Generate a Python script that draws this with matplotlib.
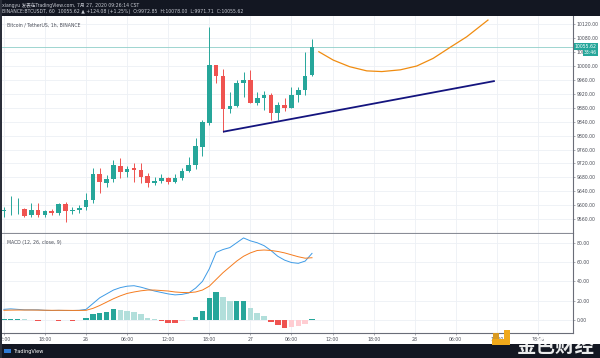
import matplotlib
matplotlib.use('Agg')
import matplotlib.pyplot as plt
import numpy as np
from matplotlib.patches import Rectangle, Polygon

plt.rcParams['font.family'] = ['DejaVu Sans', 'Noto Sans CJK SC']

# ---------------- data ----------------
# hourly candles, 25 Jul 12:00 -> 27 Jul 09:00
opens = [9583, 9585, 9588, 9589, 9572, 9586, 9572, 9583, 9577, 9603,
         9583, 9585, 9594, 9615, 9689, 9665, 9674, 9713, 9694, 9707,
         9701, 9684, 9665, 9669, 9677, 9667, 9677, 9699, 9715, 9768,
         9837, 10003, 9971, 9876, 9886, 9950, 9960, 9895, 9908, 9917,
         9866, 9888, 9880, 9917, 9931, 9972.85]
highs = [9595, 9626, 9621, 9592, 9606, 9606, 9586, 9590, 9606, 9609,
         9595, 9600, 9635, 9706, 9707, 9687, 9730, 9735, 9713, 9722,
         9720, 9693, 9682, 9690, 9682, 9690, 9706, 9738, 9792, 9845,
         10112, 10003, 9991, 9926, 9960, 9984, 9989, 9926, 9929, 9922,
         9897, 9907, 9939, 9941, 10041, 10078]
lows = [9566, 9572, 9575, 9566, 9566, 9566, 9566, 9572, 9572, 9552,
        9575, 9577, 9586, 9605, 9635, 9653, 9667, 9677, 9682, 9667,
        9663, 9651, 9658, 9663, 9661, 9663, 9672, 9696, 9703, 9741,
        9830, 9950, 9811, 9864, 9883, 9912, 9893, 9888, 9874, 9845,
        9845, 9872, 9878, 9897, 9917, 9971.71]
closes = [9585, 9587, 9590, 9569, 9586, 9572, 9583, 9577, 9603, 9583,
          9585, 9593, 9615, 9690, 9666, 9675, 9715, 9694, 9704, 9702,
          9682, 9665, 9669, 9677, 9667, 9679, 9698, 9715, 9770, 9839,
          10003, 9971, 9876, 9886, 9952, 9960, 9895, 9908, 9917, 9866,
          9888, 9878, 9917, 9931, 9971, 10055.62]

macd_line = [11, 11.5, 11, 10.5, 10.5, 10.5, 10, 9.8, 10, 9.8,
             9.8, 10, 11, 17, 23, 27, 31, 33.5, 35, 35.5,
             34, 32, 30, 28.5, 27, 26, 26.5, 28, 33, 40,
             53, 70, 73, 75, 80, 85, 82, 80, 77, 72,
             66, 62, 59.5, 58.7, 61, 69]
signal_line = [10, 10.2, 10.3, 10.3, 10.3, 10.2, 10.1, 10, 10, 10,
               9.9, 9.9, 10, 12, 15, 18.5, 22, 25, 27.5, 29,
               30.2, 31, 31, 30.5, 30, 29, 28.5, 28.3, 29, 31,
               35, 42, 49, 55, 61, 66, 69.5, 72, 72.5, 72,
               71, 69.5, 67.5, 65.5, 64, 64.5]
histogram = [1, 1.2, 1.3, 0.5, 0.3, -1, -0.3, 0.4, -1, 0.2,
             -0.8, -0.5, 1.7, 6.2, 7.6, 8.6, 11.4, 10.4, 9.7, 8.6,
             6.2, 2.4, 0.5, -0.7, -2.8, -2.8, -1.4, -0.5, 3.1, 9.7,
             23.1, 28.6, 24.2, 19.7, 19.7, 19.7, 12.1, 7.6, 4.1, -1.7,
             -5.2, -7.9, -7.6, -6, -4, 1.5]

# drawings (hour index, price)
trend_x = [32, 71.7]
trend_y = [9811, 9957]
curve_x = [46.0, 48.1, 50.5, 53.0, 55.2, 57.9, 60.3, 62.7, 65.2, 67.6, 70.7]
curve_y = [10041, 10017, 9998, 9986, 9984, 9989, 10000, 10022, 10054, 10084, 10132]

time_tick_pos = [0, 6, 12, 18, 24, 30, 36, 42, 48, 54, 60, 66, 72, 78]
time_tick_labels = ['12:00', '18:00', '26', '06:00', '12:00', '18:00', '27',
                    '06:00', '12:00', '18:00', '28', '06:00', '12:00', '18:00']
price_ticks = [9560, 9600, 9640, 9680, 9720, 9760, 9800, 9840, 9880, 9920,
               9960, 10000, 10040, 10080, 10120]
macd_ticks = [0, 20, 40, 60, 80]
last_price = 10055.62

# ---------------- figure ----------------
W, H = 600, 358
fig = plt.figure(figsize=(W / 100, H / 100), dpi=100)
fig.patch.set_facecolor('white')

def box(x0, y0, x1, y1):
    return [x0 / W, 1 - y1 / H, (x1 - x0) / W, (y1 - y0) / H]

UP = '#26a69a'
DN = '#ef5350'
GRID = '#edf0f5'
AX = '#6a6d78'
TXT = '#4a4d57'
FS = 3.3

ax = fig.add_axes(box(1.5, 16, 573, 232.5))
axm = fig.add_axes(box(1.5, 233.5, 573, 333), sharex=ax)

xlim = (-0.35, 83.12)
ax.set_xlim(*xlim)
ax.set_ylim(9521.5, 10143.7)
axm.set_ylim(-13.5, 89.6)

for a in (ax, axm):
    a.set_facecolor('white')
    for s in ('left', 'top'):
        a.spines[s].set_visible(False)
    a.spines['right'].set_color(AX)
    a.spines['right'].set_linewidth(0.8)
    a.spines['bottom'].set_color(AX)
    a.spines['bottom'].set_linewidth(0.8)
    a.yaxis.tick_right()
    a.tick_params(axis='y', length=1.5, width=0.4, color=AX, labelsize=FS,
                  labelcolor=TXT, pad=1.2)
    a.set_xticks(time_tick_pos)
    a.grid(True, color=GRID, linewidth=0.6)
    a.set_axisbelow(True)

ax.tick_params(axis='x', length=0, labelbottom=False)
axm.tick_params(axis='x', length=1.5, width=0.4, color=AX, labelsize=FS,
                labelcolor=TXT, pad=1.5)
axm.set_xticklabels(time_tick_labels)

ax.set_yticks(price_ticks)
ax.set_yticklabels([f'{v:.2f}' for v in price_ticks])
axm.set_yticks(macd_ticks)
axm.set_yticklabels([f'{v:.2f}' for v in macd_ticks])

# candles
idx = np.arange(len(opens))
o = np.array(opens); c = np.array(closes)
hi = np.array(highs); lo = np.array(lows)
up = c >= o
cols = np.where(up, UP, DN)
ax.vlines(idx, lo, hi, colors=cols, linewidth=0.7, zorder=3)
bottom = np.minimum(o, c)
height = np.maximum(np.abs(c - o), 1.8)
ax.bar(idx, height, bottom=bottom, width=0.68, color=cols, linewidth=0, zorder=4)

# last price line
ax.axhline(last_price, color='#8fcfc9', linewidth=0.6, zorder=2)

# drawings
ax.plot(trend_x, trend_y, color='#14147e', linewidth=1.3, solid_capstyle='butt', zorder=5)
ax.plot(curve_x, curve_y, color='#f08c10', linewidth=0.9, zorder=5, clip_on=True)

ax.text(0.009, 0.958, 'Bitcoin / TetherUS, 1h, BINANCE', transform=ax.transAxes,
        fontsize=FS, color=TXT, va='center', ha='left')

# price labels on axis
ax.annotate(f'{last_price:.2f}', xy=(1.0, last_price), xycoords=('axes fraction', 'data'),
            xytext=(1.2, 0), textcoords='offset points', fontsize=FS, color='white',
            va='center', ha='left', annotation_clip=False,
            bbox=dict(boxstyle='square,pad=0.25', fc=UP, ec='none'), zorder=10)
ax.annotate('33:46', xy=(1.0, last_price), xycoords=('axes fraction', 'data'),
            xytext=(8.0, -4.1), textcoords='offset points', fontsize=FS, color='white',
            va='center', ha='left', annotation_clip=False,
            bbox=dict(boxstyle='square,pad=0.25', fc=UP, ec='none'), zorder=10)

# MACD
hist = np.array(histogram)
prev = np.concatenate([[hist[0]], hist[:-1]])
hcols = []
for v, p in zip(hist, prev):
    if v >= 0:
        hcols.append('#26a69a' if v >= p else '#b2dfdb')
    else:
        hcols.append('#ef5350' if v <= p else '#ffcdd2')
axm.bar(idx, hist, width=0.8, color=hcols, linewidth=0, zorder=3)
axm.plot(idx, macd_line, color='#3e9be6', linewidth=0.7, zorder=4)
axm.plot(idx, signal_line, color='#f57c1f', linewidth=0.7, zorder=4)
axm.text(0.009, 0.91, 'MACD (12, 26, close, 9)', transform=axm.transAxes,
         fontsize=FS, color=TXT, va='center', ha='left')

# separator between panes
fig.add_artist(Rectangle((1.5 / W, 1 - 233.5 / H), (573 - 1.5) / W, 1.0 / H,
                         transform=fig.transFigure, color='#8a8d96', lw=0))

# header & footer bands
DARK = '#131722'
fig.add_artist(Rectangle((0, 1 - 16 / H), 1, 16 / H, transform=fig.transFigure,
                         color=DARK, lw=0, zorder=20))
fig.add_artist(Rectangle((0, 0), 1, 14 / H, transform=fig.transFigure,
                         color=DARK, lw=0, zorder=20))
fig.add_artist(Rectangle((0, 0), 1.5 / W, 1, transform=fig.transFigure,
                         color='#2a2e39', lw=0, zorder=20))

fig.text(2 / W, 1 - 5 / H, 'xiangyu 发表在TradingView.com, 7月 27, 2020 09:26:14 CST',
         fontsize=FS, color='#c8cbd3', va='center', ha='left', zorder=21,
         family=['DejaVu Sans', 'Noto Sans CJK SC'])
fig.text(2 / W, 1 - 11.5 / H,
         'BINANCE:BTCUSDT, 60  10055.62 ▲ +124.08 (+1.25%)  O:9972.85  H:10078.00  L:9971.71  C:10055.62',
         fontsize=FS, color='#c8cbd3', va='center', ha='left', zorder=21)

fig.text(13 / W, 7 / H, 'TradingView', fontsize=3.6, color='white',
         va='center', ha='left', zorder=21)
fig.add_artist(Rectangle((4 / W, 5 / H), 7 / W, 4 / H, transform=fig.transFigure,
                         color='#2f7bd6', lw=0, zorder=21))

# watermark
fig.add_artist(Polygon([(492 / W, 13 / H), (510 / W, 13 / H), (510 / W, 28 / H),
                        (504 / W, 28 / H), (504 / W, 19 / H), (492 / W, 19 / H)],
                       closed=True, transform=fig.transFigure, color='#f0a91b',
                       lw=0, zorder=22))
fig.add_artist(Rectangle((493 / W, 19 / H), 6 / W, 6 / H, transform=fig.transFigure,
                         color='#d99a22', lw=0, zorder=22))
fig.text(556 / W, 12 / H, '金色财经', fontsize=14, color='white', alpha=0.92,
         va='center', ha='center', zorder=23, family=['Noto Sans CJK SC'],
         fontweight='bold')

fig.savefig('out.png', dpi=100, facecolor=fig.get_facecolor())
